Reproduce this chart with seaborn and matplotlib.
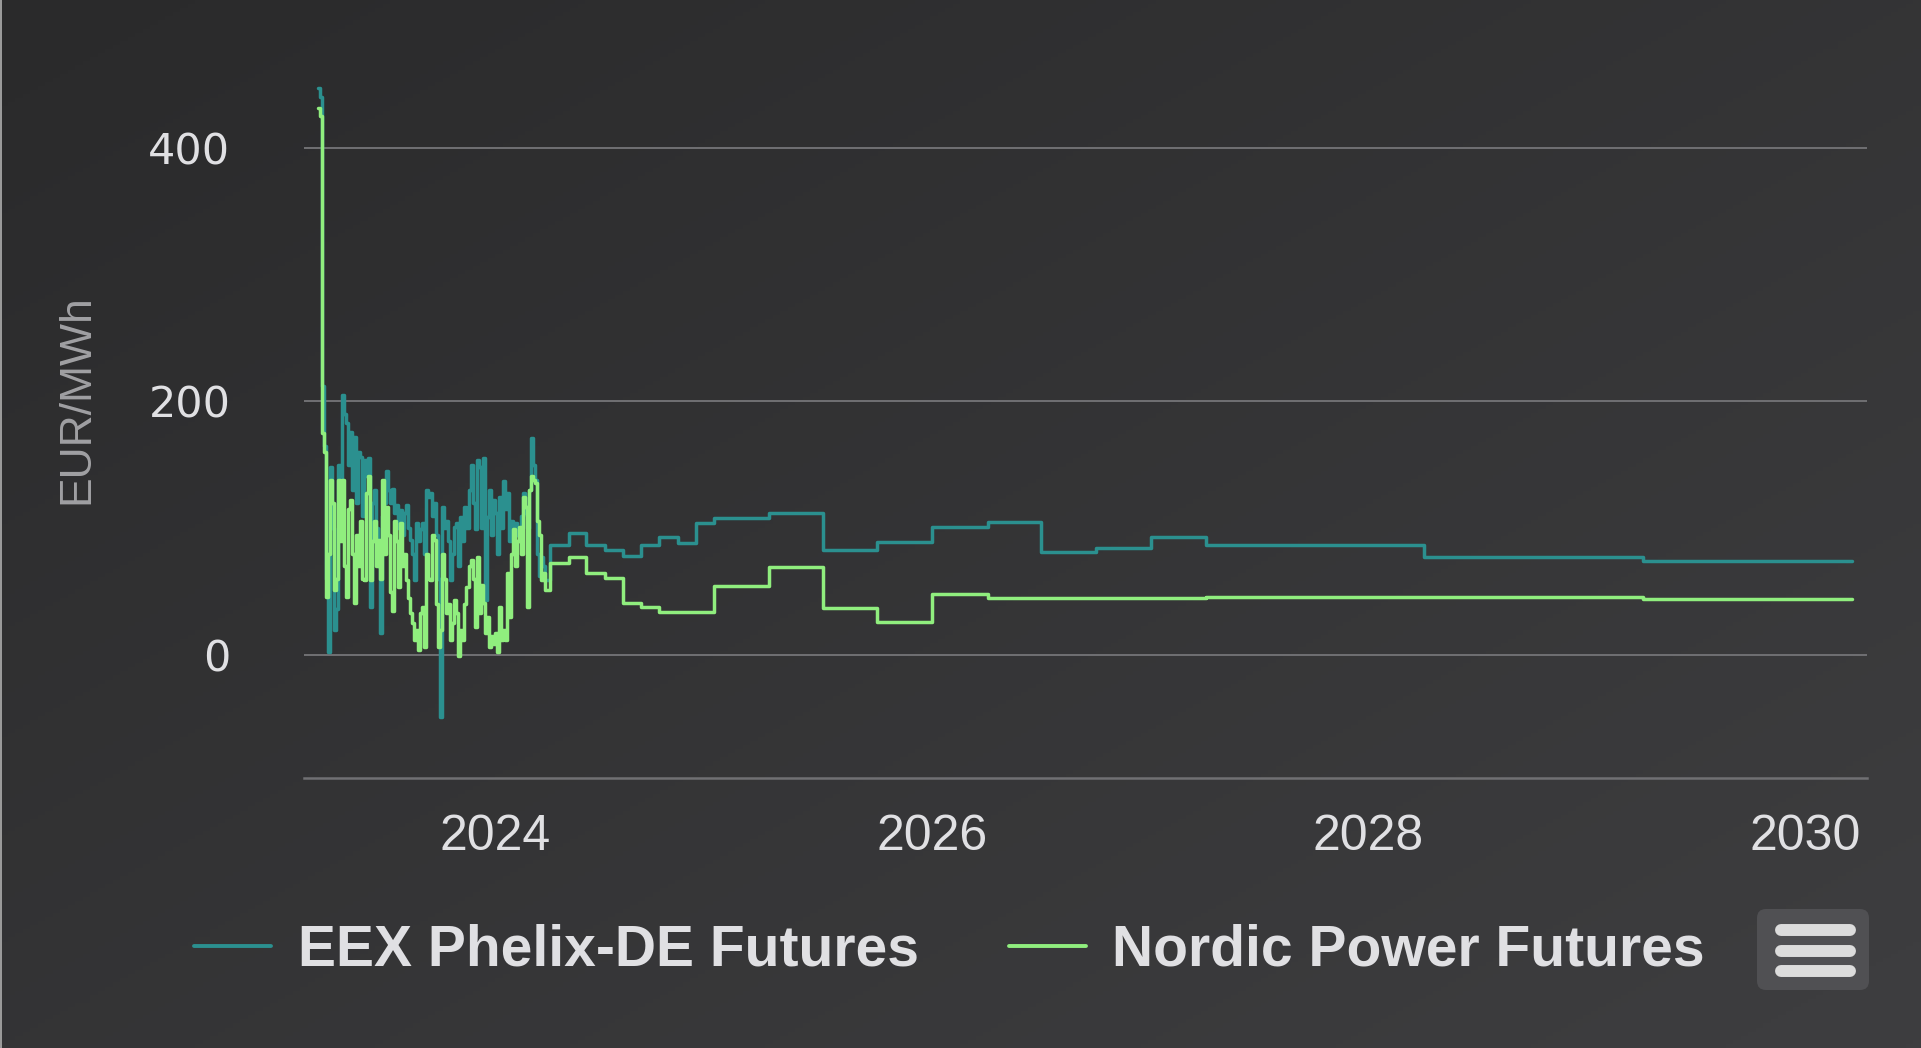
import numpy as np
import pandas as pd
import seaborn as sns
import matplotlib.pyplot as plt
from matplotlib.colors import LinearSegmentedColormap
from matplotlib.lines import Line2D
from matplotlib.patches import FancyBboxPatch, Rectangle
from matplotlib.transforms import IdentityTransform

# Series names and colours
series_names = ["EEX Phelix-DE Futures", "Nordic Power Futures"]
series_colors = ["#2b908f", "#90ee7e"]

# Historical daily settlement, Dec 2022 - Dec 2023
hist_start = "2022-12-08"
hist_end = "2023-12-26"
eex_hist = [447, 440, 212, 165, 60, 2, 148, 100, 20, 36,
            150, 120, 205, 190, 183, 150, 176, 130, 172, 120,
            160, 156, 110, 154, 141, 155, 38, 120, 130, 100,
            70, 17, 110, 120, 145, 130, 120, 131, 112, 118,
            100, 114, 95, 112, 118, 100, 91, 80, 59, 104,
            90, 99, 104, 80, 130, 125, 128, 110, 120, 95,
            60, -49, 117, 100, 106, 90, 59, 80, 101, 104,
            70, 109, 90, 117, 100, 130, 150, 120, 99, 154,
            148, 100, 155, 43, 109, 130, 95, 122, 112, 80,
            125, 100, 137, 115, 128, 90, 106, 100, 104, 95,
            93, 110, 128, 112, 100, 130, 171, 150, 138, 80,
            62, 77, 70, 59, 59]
nordic_hist = [431, 425, 175, 160, 46, 80, 138, 120, 51, 60,
               138, 90, 138, 70, 46, 115, 122, 80, 41, 95,
               70, 106, 60, 59, 128, 141, 59, 90, 106, 70,
               91, 60, 138, 80, 117, 95, 50, 35, 106, 90,
               54, 104, 70, 80, 59, 45, 33, 25, 12, 20,
               4, 33, 38, 6, 80, 60, 59, 95, 91, 40,
               6, 20, 80, 60, 33, 40, 12, 25, 43, 33,
               -1, 20, 12, 40, 54, 70, 75, 60, 22, 77,
               33, 55, 41, 17, 30, 6, 15, 9, 17, 2,
               38, 12, 20, 12, 65, 30, 80, 99, 70, 90,
               101, 80, 125, 117, 38, 130, 141, 138, 136, 106,
               95, 59, 65, 51, 51]

# Forward curve contract start dates (months, quarters, calendar years)
fwd_dates = ["2024-01-01", "2024-02-01", "2024-03-01", "2024-04-01",
             "2024-05-01", "2024-06-01", "2024-07-01", "2024-08-01",
             "2024-09-01", "2024-10-01", "2025-01-01", "2025-04-01",
             "2025-07-01", "2025-10-01", "2026-01-01", "2026-04-01",
             "2026-07-01", "2026-10-01", "2027-01-01", "2028-01-01",
             "2029-01-01", "2029-12-17"]
eex_fwd = [86.8, 96, 86.8, 82.8, 78, 87, 93, 88.6, 104, 108,
           112, 83, 89, 101, 105, 81.5, 84.2, 93.3, 86.8, 77.6,
           74.4, 74.4]
nordic_fwd = [72.9, 77.6, 64.4, 60.5, 41.3, 38.1, 34.2, 34.2, 34.2, 54.4,
              69.7, 36.8, 26.3, 48.1, 44.7, 44.7, 44.7, 44.7, 46, 45.5,
              43.9, 43.9]

year_ticks = ["2024-01-01", "2026-01-01", "2028-01-01", "2030-01-01"]
year_labels = ["2024", "2026", "2028", "2030"]
y_ticks = [0, 200, 400]

# Build long table for seaborn
hist_dates = pd.date_range(hist_start, hist_end, periods=len(eex_hist))
frames = []
for name, hist, fwd in [(series_names[0], eex_hist, eex_fwd),
                        (series_names[1], nordic_hist, nordic_fwd)]:
    d = pd.DataFrame({
        "date": list(hist_dates) + list(pd.to_datetime(fwd_dates)),
        "price": hist + fwd,
    })
    d["series"] = name
    frames.append(d)
df = pd.concat(frames, ignore_index=True)

sns.set_style("dark")
text_col = "#e0e0e3"
grid_col = "#707073"

fig = plt.figure(figsize=(19.21, 10.48), dpi=100)

# Dark diagonal gradient background
bg = fig.add_axes([0, 0, 1, 1], zorder=-10)
gx, gy = np.meshgrid(np.linspace(0, 1, 256), np.linspace(0, 1, 256))
grad = (gx + gy) / 2
cmap_bg = LinearSegmentedColormap.from_list("bg", ["#2a2a2b", "#3e3e40"])
bg.imshow(grad, cmap=cmap_bg, aspect="auto", extent=[0, 1, 0, 1], origin="upper")
bg.set_axis_off()

ax = fig.add_axes([0.1583, 0.2576, 0.8136, 0.7224])
ax.set_facecolor("none")

sns.lineplot(data=df, x="date", y="price", hue="series",
             hue_order=series_names, palette=series_colors,
             drawstyle="steps-post", linewidth=2.5, legend=False,
             estimator=None, ax=ax)

ax.set_xlim(pd.Timestamp("2022-11-15"), pd.Timestamp("2030-01-11"))
ax.set_ylim(-97, 500)

ax.set_yticks(y_ticks)
ax.set_yticklabels([str(v) for v in y_ticks], fontsize=31,
                   family="DejaVu Sans", color=text_col)
ax.tick_params(axis="y", length=0, pad=53)
ax.grid(axis="y", color=grid_col, linewidth=1.4)
ax.grid(axis="x", visible=False)

ax.set_xticks(pd.to_datetime(year_ticks))
ax.set_xticklabels(year_labels, fontsize=36, family="Liberation Sans",
                   color=text_col, ha="right")
ax.tick_params(axis="x", length=26, width=1.1, color=grid_col, pad=0)

for s in ["top", "right", "left"]:
    ax.spines[s].set_visible(False)
ax.spines["bottom"].set_color(grid_col)
ax.spines["bottom"].set_linewidth(1.8)

ax.set_xlabel("")
ax.set_ylabel("EUR/MWh", fontsize=32, family="Liberation Sans", color="#a0a0a3")
ax.yaxis.set_label_coords(-0.132, 0.5)

# Legend
handles = [Line2D([0], [0], color=c, linewidth=2.8) for c in series_colors]
fig.legend(handles, series_names, loc="center left",
           bbox_to_anchor=(0.101, 0.0926), ncol=2, frameon=False,
           borderpad=0, borderaxespad=0, handlelength=1.36,
           handletextpad=0.46, columnspacing=1.58, labelcolor=text_col,
           prop={"family": "Liberation Sans", "weight": "bold", "size": 41})

# Export menu button
ident = IdentityTransform()
fig.add_artist(FancyBboxPatch((1757, 58), 112, 81,
                              boxstyle="round,pad=0,rounding_size=9",
                              facecolor="#505053", edgecolor="none",
                              transform=ident))
for yb in [118, 97, 77]:
    fig.add_artist(Line2D([1781, 1850], [yb, yb], color="#dcdcdc",
                          linewidth=8.6, solid_capstyle="round",
                          transform=ident))

# thin light frame on left edge
fig.add_artist(Rectangle((0, 0), 2, 1048, facecolor="#9a9a9a",
                         edgecolor="none", transform=ident))

fig.savefig("out.png", dpi=100)
